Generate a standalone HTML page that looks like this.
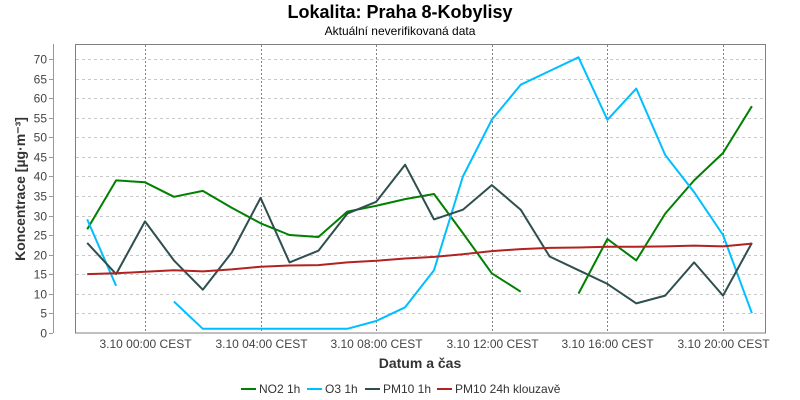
<!DOCTYPE html>
<html><head><meta charset="utf-8"><style>
body{margin:0;background:#fff;width:800px;height:400px;overflow:hidden}
svg{display:block;font-family:"Liberation Sans",sans-serif}
</style></head><body>
<svg id="c" width="800" height="400" xmlns="http://www.w3.org/2000/svg">
<text x="400" y="18" text-anchor="middle" font-size="18" font-weight="bold" fill="#000">Lokalita: Praha 8-Kobylisy</text>
<text x="400" y="35" text-anchor="middle" font-size="12" fill="#000">Aktuální neverifikovaná data</text>
<g id="grid"></g>
<rect x="75.5" y="44.5" width="690" height="288.5" fill="none" stroke="#808080" stroke-width="1"/>
<line x1="53.5" y1="44" x2="53.5" y2="333" stroke="#999"/>
<g id="yl" font-size="12" fill="#444" text-anchor="end"></g>
<g id="xl" font-size="12" fill="#444" text-anchor="middle"></g>
<text transform="translate(25,189) rotate(-90)" text-anchor="middle" font-size="14" font-weight="bold" fill="#333">Koncentrace [µg·m⁻³]</text>
<text x="420" y="368" text-anchor="middle" font-size="14" font-weight="bold" fill="#333">Datum a čas</text>
<g id="series" fill="none" stroke-width="2" stroke-linejoin="round"></g>
<g font-size="12" fill="#333">
<line x1="241" y1="389" x2="256" y2="389" stroke="#008000" stroke-width="2"/><text x="259" y="393">NO2 1h</text>
<line x1="307" y1="389" x2="322" y2="389" stroke="#00bfff" stroke-width="2"/><text x="325" y="393">O3 1h</text>
<line x1="365" y1="389" x2="380" y2="389" stroke="#2f4f4f" stroke-width="2"/><text x="383" y="393">PM10 1h</text>
<line x1="437" y1="389" x2="452" y2="389" stroke="#b22222" stroke-width="2"/><text x="455" y="393">PM10 24h klouzavě</text>
</g>
</svg>
<script>
const NS="http://www.w3.org/2000/svg";
const X=h=>145+28.9*h, Y=v=>332.7-v*3.906;
function el(p,t,a){const e=document.createElementNS(NS,t);for(const k in a)e.setAttribute(k,a[k]);p.appendChild(e);return e;}
const g=document.getElementById('grid'),yl=document.getElementById('yl'),xl=document.getElementById('xl'),s=document.getElementById('series');
for(let v=0;v<=70;v+=5){const y=Math.round(Y(v))+0.5;
 if(v>0)el(g,'line',{x1:76,x2:765,y1:y,y2:y,stroke:'#c8c8c8','stroke-dasharray':'3,3'});
 el(g,'line',{x1:49,x2:53,y1:y,y2:y,stroke:'#999'});
 const t=el(yl,'text',{x:47,y:y+4});t.textContent=v;}
[0,4,8,12,16,20].forEach(h=>{const x=Math.round(X(h))+0.5;
 el(g,'line',{x1:x,x2:x,y1:45,y2:333,stroke:'#808080','stroke-dasharray':'2,2'});
 const t=el(xl,'text',{x:x,y:348});t.textContent='3.10 '+String(h).padStart(2,'0')+':00 CEST';});
const D={
'#008000':[26.5,39,38.5,34.8,36.3,32,28,25,24.5,31,32.5,34.2,35.5,25.5,15.2,10.5,null,10,24,18.5,30.5,39,46,58],
'#00bfff':[29,12,null,8,1,1,1,1,1,1,3,6.5,16,40,54.5,63.5,67,70.5,54.5,62.5,45.5,36,25,5],
'#2f4f4f':[23,15,28.5,18.5,11,20.5,34.5,18,21,30.5,33.5,43,29,31.5,37.8,31.5,19.5,16,12.5,7.5,9.5,18,9.5,23],
'#b22222':[15,15.2,15.6,16,15.7,16.2,16.9,17.2,17.3,18,18.4,19,19.4,20.1,20.9,21.4,21.7,21.8,22,22,22.1,22.3,22.1,22.8]};
for(const c in D){let d='',pen=false;D[c].forEach((v,i)=>{if(v==null){pen=false;return;}
 d+=(pen?'L':'M')+X(i-2).toFixed(1)+' '+Y(v).toFixed(1);pen=true;});
 el(s,'path',{d:d,stroke:c});}
</script>
</body></html>
